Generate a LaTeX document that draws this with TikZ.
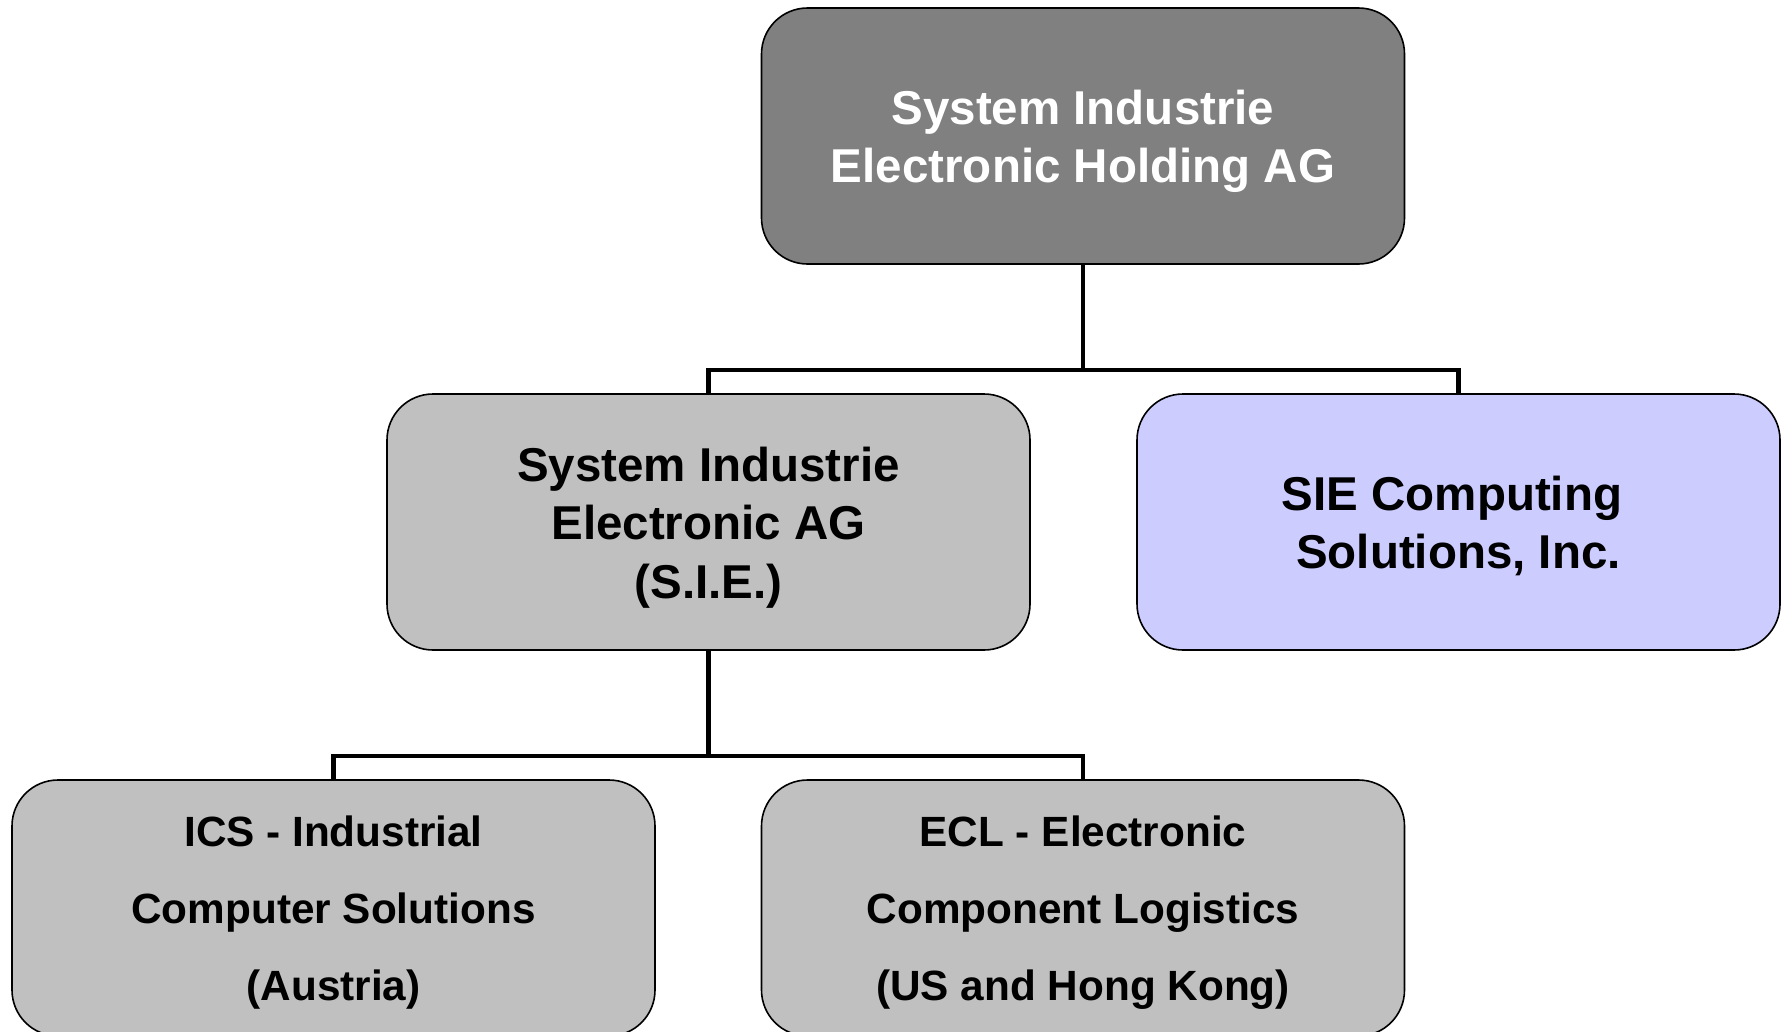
\documentclass[tikz,border=0pt]{standalone}
\usepackage{fontspec}
\setmainfont{Liberation Sans}
\definecolor{topgray}{HTML}{808080}
\definecolor{midgray}{HTML}{C0C0C0}
\definecolor{lilac}{HTML}{CCCCFF}
\newcommand{\lowerlines}[2][-6pt]{\raisebox{#1}[\height][\depth]{\begin{tabular}{@{}c@{}}#2\end{tabular}}}
\begin{document}
\begin{tikzpicture}[x=1pt,y=-1pt,
  orgbox/.style={draw=black, line width=1.6pt, rounded corners=46pt,
    minimum width=643pt, minimum height=256pt, inner sep=0pt},
  bigtext/.style={font=\fontsize{47.5}{58.5}\selectfont\bfseries},
  smalltext/.style={font=\fontsize{42.3}{77.4}\selectfont\bfseries},
  conn/.style={line width=4.5pt}]
\useasboundingbox (0,0) rectangle (1785,1031);
\coordinate (j1) at (1083,370);
\coordinate (j2) at (708.5,756);
\node[orgbox, bigtext, fill=topgray, text=white] (top) at (1083,136) {\lowerlines{System Industrie\\Electronic Holding AG}};
\node[orgbox, bigtext, fill=midgray] (midL) at (708.5,522) {\lowerlines{System Industrie\\Electronic AG\\(S.I.E.)}};
\node[orgbox, bigtext, fill=lilac] (midR) at (1458.5,522) {\lowerlines{SIE Computing\kern13pt\\Solutions, Inc.}};
\node[orgbox, smalltext, fill=midgray] (botL) at (333.5,908) {\lowerlines[0pt]{ICS - Industrial\\Computer Solutions\\(Austria)}};
\node[orgbox, smalltext, fill=midgray] (botR) at (1083,908) {\lowerlines[0pt]{ECL - Electronic\\Component Logistics\\(US and Hong Kong)}};
\draw[conn] (top.south) -- (j1);
\draw[conn] (midL.north) |- (j1);
\draw[conn] (midR.north) |- (j1);
\draw[conn] (midL.south) -- (j2);
\draw[conn] (botL.north) |- (j2);
\draw[conn] (botR.north) |- (j2);
\end{tikzpicture}
\end{document}
